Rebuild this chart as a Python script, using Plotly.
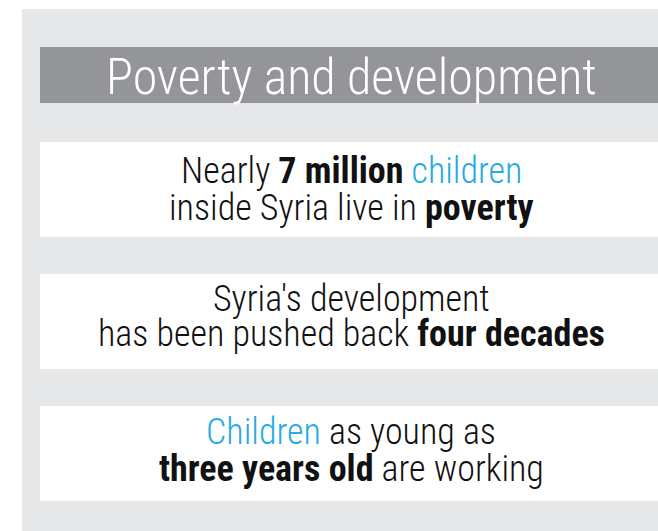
import plotly.graph_objects as go

W, H = 658, 531
PANEL = "#e6e7e8"
TITLE_BG = "#939598"
BLUE = "#27aae1"
TEXT = "#111111"

title_text = "Poverty and development"

# statement boxes: (top, bottom) and lines of rich text
box_tops = [142, 274, 406]
box_bottoms = [237, 369, 501]
line1 = [
    "Nearly <b>7 million</b> <span style='color:%s'>children</span>" % BLUE,
    "Syria's development",
    "<span style='color:%s'>Children</span> as young as" % BLUE,
]
line2 = [
    "inside Syria live in <b>poverty</b>",
    "has been pushed back <b>four decades</b>",
    "<b>three years old</b> are working",
]
baseline1 = [184, 312, 445]
baseline2 = [221, 347, 482]

FONT = "Roboto Condensed, Roboto, sans-serif"
FS = 36
TS = 50
CX = 351

fig = go.Figure()
shapes = [
    dict(type="rect", x0=22, x1=W, y0=9, y1=H, fillcolor=PANEL, line_width=0, layer="below"),
    dict(type="rect", x0=40, x1=W, y0=47, y1=103, fillcolor=TITLE_BG, line_width=0, layer="below"),
]
for t, b in zip(box_tops, box_bottoms):
    shapes.append(dict(type="rect", x0=40, x1=W, y0=t, y1=b, fillcolor="white", line_width=0, layer="below"))

annotations = [
    dict(x=CX, y=94 - 0.34 * TS, text=title_text, showarrow=False, xanchor="center", yanchor="middle",
         font=dict(family=FONT, size=TS, color="white", weight=300))
]
for l1, l2, b1, b2 in zip(line1, line2, baseline1, baseline2):
    annotations.append(dict(x=CX, y=b1 - 0.35 * FS, text=l1, showarrow=False, xanchor="center", yanchor="middle",
                            font=dict(family=FONT, size=FS, color=TEXT, weight=300)))
    annotations.append(dict(x=CX, y=b2 - 0.35 * FS, text=l2, showarrow=False, xanchor="center", yanchor="middle",
                            font=dict(family=FONT, size=FS, color=TEXT, weight=300)))

fig.update_layout(
    width=W, height=H, margin=dict(l=0, r=0, t=0, b=0),
    paper_bgcolor="white", plot_bgcolor="white",
    xaxis=dict(range=[0, W], visible=False, fixedrange=True),
    yaxis=dict(range=[H, 0], visible=False, fixedrange=True),
    shapes=shapes, annotations=annotations, showlegend=False,
)
fig.write_html("out.html", config={"displayModeBar": False},
               post_script="document.body.style.margin='0'")
